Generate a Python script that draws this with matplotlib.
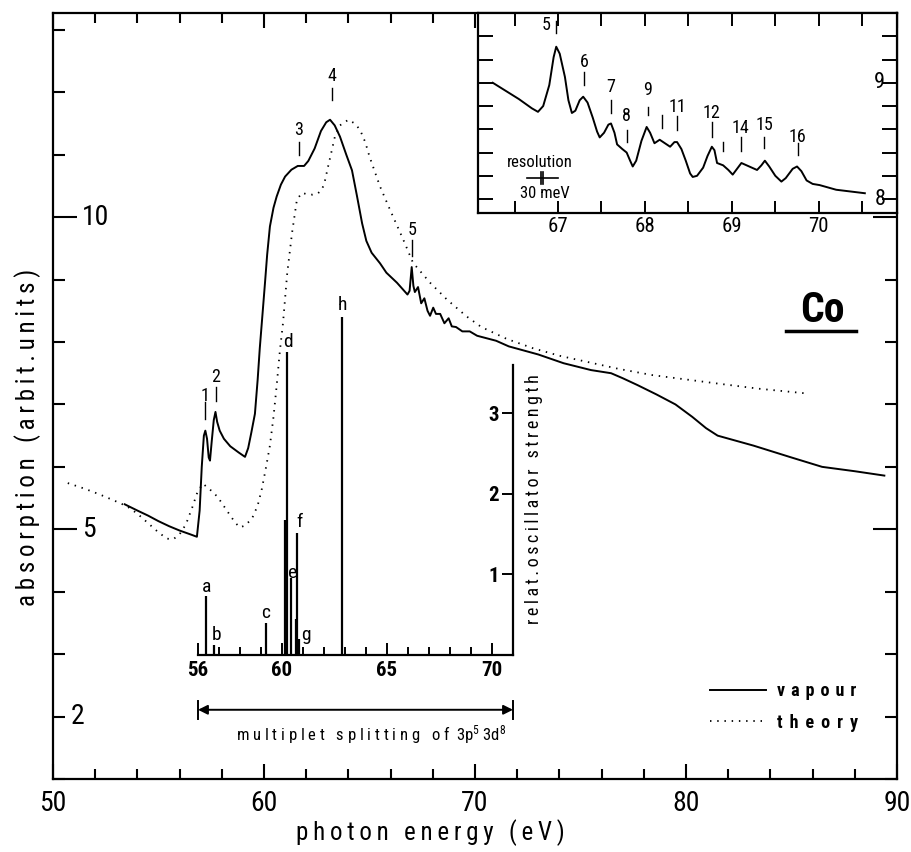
import matplotlib
matplotlib.use('Agg')
import matplotlib.pyplot as plt
from matplotlib import font_manager as fm

entries = fm.fontManager.ttflist
names = {f.name for f in entries}
FONT = 'DejaVu Sans'
STRETCH = 'normal'
for c in ['Liberation Sans Narrow', 'Roboto Condensed', 'Open Sans Condensed', 'DejaVu Sans Condensed']:
    if c in names:
        FONT = c
        break
else:
    if any(f.name == 'DejaVu Sans' and 'condensed' in str(f.stretch) for f in entries):
        STRETCH = 'condensed'
plt.rcParams['font.family'] = [FONT, 'DejaVu Sans']
plt.rcParams['font.stretch'] = STRETCH
plt.rcParams['mathtext.default'] = 'regular'
NARROW = (FONT != 'DejaVu Sans') or STRETCH == 'condensed'

# ---------------- data ----------------
vapour_e = [53.4, 54.0, 54.5, 55.0, 55.5, 56.0, 56.5, 56.82, 56.95, 57.05, 57.15, 57.22, 57.3, 57.38,
            57.44, 57.52, 57.62, 57.7, 57.78, 57.9, 58.1, 58.4, 58.8, 59.1, 59.25, 59.4, 59.57, 59.7,
            59.8, 59.93, 60.05, 60.15, 60.28, 60.45, 60.6, 60.8, 61.0, 61.3, 61.6, 61.9, 62.1, 62.4,
            62.7, 62.95, 63.13, 63.35, 63.6, 63.9, 64.17, 64.4, 64.65, 64.85, 65.1, 65.5, 65.8, 66.3,
            66.8, 66.9, 67.0, 67.08, 67.15, 67.3, 67.45, 67.6, 67.75, 67.87, 68.02, 68.15, 68.35,
            68.55, 68.75, 68.9, 69.1, 69.4, 69.75, 70.1, 71.0, 71.6, 73.0, 74.2, 75.5, 76.45, 77.0,
            77.7, 78.6, 79.5, 80.3, 80.95, 81.5, 83.2, 85.0, 86.45, 88.0, 89.4]
vapour_a = [5.40, 5.30, 5.22, 5.13, 5.05, 4.98, 4.92, 4.88, 5.30, 6.00, 6.50, 6.58, 6.45, 6.15,
            6.10, 6.40, 6.75, 6.88, 6.72, 6.58, 6.45, 6.33, 6.23, 6.16, 6.30, 6.55, 6.85, 7.40,
            7.90, 8.45, 8.96, 9.40, 9.85, 10.15, 10.33, 10.52, 10.65, 10.76, 10.82, 10.82, 10.90, 11.10,
            11.38, 11.52, 11.56, 11.47, 11.29, 11.00, 10.75, 10.35, 9.90, 9.62, 9.43, 9.26, 9.11, 8.95,
            8.76, 8.82, 9.20, 8.90, 8.80, 8.88, 8.62, 8.70, 8.50, 8.42, 8.55, 8.45, 8.45,
            8.30, 8.38, 8.25, 8.24, 8.17, 8.17, 8.10, 8.02, 7.93, 7.80, 7.66, 7.55, 7.50, 7.42,
            7.31, 7.16, 7.00, 6.80, 6.62, 6.50, 6.34, 6.15, 6.00, 5.93, 5.86]

theory_e = [50.7, 51.5, 52.2, 52.9, 53.5, 54.0, 54.5, 55.0, 55.4, 55.7, 56.0, 56.3, 56.6, 56.85,
            57.1, 57.4, 57.8, 58.1, 58.4, 58.65, 58.86, 59.1, 59.43, 59.7, 59.9, 60.1, 60.28, 60.45,
            60.6, 60.75, 60.9, 61.1, 61.33, 61.56, 61.8, 62.0, 62.3, 62.55, 62.75, 62.9, 63.03, 63.2,
            63.36, 63.6, 64.0, 64.3, 64.55, 64.8, 65.0, 65.5, 65.97, 66.6, 67.06, 67.87, 68.67, 69.6,
            70.3, 71.5, 72.75, 74.0, 75.2, 76.8, 78.4, 80.0, 81.6, 83.5, 85.6]
theory_a = [5.74, 5.65, 5.56, 5.46, 5.37, 5.25, 5.10, 4.95, 4.85, 4.84, 4.92, 5.08, 5.35, 5.60,
            5.73, 5.65, 5.52, 5.37, 5.22, 5.10, 5.03, 5.06, 5.17, 5.38, 5.65, 6.00, 6.34, 6.80,
            7.30, 7.85, 8.30, 9.10, 9.75, 10.28, 10.39, 10.37, 10.36, 10.38, 10.44, 10.60, 10.80, 11.05,
            11.29, 11.47, 11.56, 11.50, 11.40, 11.20, 10.97, 10.49, 10.12, 9.64, 9.27, 8.95, 8.68, 8.41,
            8.24, 8.05, 7.90, 7.78, 7.69, 7.57, 7.47, 7.40, 7.33, 7.25, 7.18]

# peak markers on main curve
main_peak_names = ['1', '2', '3', '4', '5']
main_peak_e = [57.2, 57.72, 61.66, 63.22, 67.01]

# multiplet (stick) spectrum
stick_e = [56.38, 56.76, 59.24, 60.15, 60.26, 60.43, 60.68, 60.71, 60.80, 62.86]
stick_f = [0.73, 0.12, 0.40, 1.68, 3.76, 0.96, 0.45, 1.52, 0.20, 4.20]
stick_names = ['a', 'b', 'c', 'd', 'e', 'f', 'g', 'h']
stick_name_e = [56.43, 56.90, 59.24, 60.29, 60.52, 60.81, 61.12, 62.90]

# high-resolution inset
hr_e = [66.25, 66.4, 66.55, 66.7, 66.77, 66.83, 66.9, 66.95, 66.98, 67.02, 67.08, 67.12, 67.16,
        67.2, 67.25, 67.29, 67.34, 67.4, 67.45, 67.48, 67.53, 67.58, 67.61, 67.65, 67.68, 67.74,
        67.79, 67.83, 67.86, 67.9, 67.96, 68.02, 68.06, 68.11, 68.17, 68.23, 68.29, 68.34, 68.37,
        68.42, 68.47, 68.52, 68.55, 68.6, 68.67, 68.72, 68.77, 68.8, 68.83, 68.9, 68.96, 69.01,
        69.06, 69.11, 69.2, 69.29, 69.34, 69.38, 69.43, 69.5, 69.57, 69.62, 69.7, 69.75, 69.8,
        69.86, 69.93, 70.01, 70.2, 70.53]
hr_a = [9.00, 8.93, 8.86, 8.78, 8.75, 8.80, 8.98, 9.22, 9.31, 9.25, 9.05, 8.85, 8.74,
        8.76, 8.85, 8.88, 8.83, 8.70, 8.58, 8.53, 8.57, 8.64, 8.65, 8.57, 8.47, 8.43,
        8.40, 8.33, 8.28, 8.33, 8.50, 8.62, 8.57, 8.48, 8.51, 8.48, 8.45, 8.49, 8.49,
        8.43, 8.33, 8.22, 8.19, 8.20, 8.27, 8.37, 8.45, 8.42, 8.31, 8.29, 8.25, 8.21,
        8.26, 8.31, 8.28, 8.25, 8.29, 8.33, 8.28, 8.20, 8.15, 8.18, 8.26, 8.28, 8.24,
        8.16, 8.13, 8.12, 8.08, 8.05]
hr_names = ['5', '6', '7', '8', '9', '', '11', '12', '', '14', '15', '16']
hr_mark_e = [66.98, 67.30, 67.61, 67.79, 68.03, 68.20, 68.37, 68.77, 68.90, 69.10, 69.37, 69.76]

main_xticks = [50, 60, 70, 80, 90]
main_ylabels = [2, 5, 10]
stick_xlabels = [56, 60, 65, 70]
stick_ylabels = [1, 2, 3]
hr_xlabels = [67, 68, 69, 70]
hr_ylabels = [8, 9]

# ---------------- layout ----------------
W, H = 912, 852
fig = plt.figure(figsize=(W / 100, H / 100), dpi=100)
fig.patch.set_facecolor('white')
renderer = fig.canvas.get_renderer()

def fx(px):
    return px / W

def fy(py):
    return 1 - py / H

SEPS = ['', '\u200a', '\u2009', '\u2009\u200a', '\u2009\u2009', ' ', ' \u200a', ' \u2009', '  ']

def fit_spacing(t, raw, target, vertical=False, suffix=''):
    best = None
    for sep in SEPS:
        t.set_text(sep.join(raw) + (sep + ' ' + suffix if suffix else ''))
        bb = t.get_window_extent(renderer)
        size = bb.height if vertical else bb.width
        err = abs(size - target)
        if best is None or err < best[0]:
            best = (err, t.get_text())
    t.set_text(best[1])

TICK_FS = 20 if NARROW else 17

ax = fig.add_axes([fx(53), fy(779), fx(897) - fx(53), fy(13) - fy(779)])
ax.set_xlim(50, 90)
ax.set_ylim(1.03, 13.27)
for s in ax.spines.values():
    s.set_linewidth(1.6)

lv, = ax.plot(vapour_e, vapour_a, color='black', lw=1.4, solid_joinstyle='round')
lt, = ax.plot(theory_e, theory_a, color='black', lw=1.3, linestyle=(0, (0.8, 3.2)))

ax.set_xticks(main_xticks)
ax.set_xticks(range(50, 91, 2), minor=True)
ax.set_yticks([5, 10])
ax.set_yticks(range(1, 14), minor=True)
ax.tick_params(axis='x', which='major', direction='in', length=11, width=1.5, top=True,
               labelsize=TICK_FS, pad=8)
ax.tick_params(axis='x', which='minor', direction='in', length=7, width=1.5, top=True)
ax.tick_params(axis='y', which='major', direction='in', length=17, width=1.5, right=True,
               labelleft=False)
ax.tick_params(axis='y', which='minor', direction='in', length=8.5, width=1.5, right=True)
ax.set_xticklabels([str(v) for v in main_xticks])
ylab_px = {2: 71, 5: 82, 10: 82}
for v in main_ylabels:
    ax.text((ylab_px[v] - 53) / 844, v, str(v), transform=ax.get_yaxis_transform(),
            ha='left', va='center', fontsize=TICK_FS)

# axis titles
xl = fig.text(fx(430), fy(833), 'x', ha='center', va='center', fontsize=18)
fit_spacing(xl, 'photon energy (eV)', 266)
yl = fig.text(fx(28), fy(437), 'y', ha='center', va='center', fontsize=18, rotation=90)
fit_spacing(yl, 'absorption (arbit.units)', 342, vertical=True)

# peak markers on main curve
lab_y = [7.13, 7.44, 11.40, 12.26, 9.80]
tick_lo = [6.77, 7.05, 11.00, 11.88, 9.37]
tick_hi = [7.04, 7.28, 11.21, 12.07, 9.64]
for n, e, ly, lo, hi in zip(main_peak_names, main_peak_e, lab_y, tick_lo, tick_hi):
    ax.text(e, ly, n, ha='center', va='center', fontsize=13)
    ax.plot([e, e], [lo, hi], color='black', lw=1.0)

# Co label
ax.text(86.45, 8.51, 'Co', ha='center', va='center', fontsize=30, fontweight='bold')
ax.plot([84.74, 88.06], [8.17, 8.17], color='black', lw=2.5)

# legend
leg = ax.legend([lv, lt], ['vapour', 'theory'], loc='upper left',
                bbox_to_anchor=(fx(710), fy(682)), bbox_transform=fig.transFigure,
                frameon=False, fontsize=13, handlelength=3.1, handletextpad=0.6,
                labelspacing=0.75, borderpad=0, borderaxespad=0)
for t, raw in zip(leg.get_texts(), ['vapour', 'theory']):
    t.set_fontweight('bold')
    fit_spacing(t, raw, 80)

# ---------------- stick spectrum inset ----------------
ax2 = fig.add_axes([fx(198), fy(655), fx(513) - fx(198), fy(365) - fy(655)])
ax2.patch.set_alpha(0)
ax2.set_xlim(56, 71)
ax2.set_ylim(0, 3.6)
ax2.spines['top'].set_visible(False)
ax2.spines['right'].set_visible(False)
ax2.spines['left'].set_position(('data', 71))
ax2.spines['left'].set_linewidth(1.6)
ax2.spines['bottom'].set_linewidth(1.6)
ax2.set_xticks(stick_xlabels)
ax2.set_xticks(range(56, 72), minor=True)
ax2.set_xticklabels([str(v) for v in stick_xlabels])
ax2.tick_params(axis='x', which='major', direction='in', length=9, width=1.4,
                labelsize=15 if NARROW else 14, pad=4)
ax2.tick_params(axis='x', which='minor', direction='in', length=6, width=1.4)
for t in ax2.get_xticklabels():
    t.set_fontweight('bold')
ax2.set_yticks(stick_ylabels)
ax2.set_yticklabels([str(v) for v in stick_ylabels])
ax2.tick_params(axis='y', direction='out', length=8, width=1.4,
                labelsize=15 if NARROW else 14, pad=2)
for t in ax2.get_yticklabels():
    t.set_fontweight('bold')
ax2.vlines(stick_e, 0, stick_f, color='black', lw=1.6, clip_on=False)
name_y = [0.84, 0.25, 0.52, 3.89, 1.02, 1.65, 0.25, 4.35]
for n, e, y in zip(stick_names, stick_name_e, name_y):
    ax2.text(e, y, n, ha='center', va='center', fontsize=14, clip_on=False)
rl = ax2.text(71.55, 1.93, 'r', rotation=90, ha='left', va='center', fontsize=13, clip_on=False)
fit_spacing(rl, 'relat.oscillator strength', 241, vertical=True)
ax2.annotate('', xy=(56, -0.68), xytext=(71, -0.68),
             arrowprops=dict(arrowstyle='<|-|>', color='black', lw=1.4, mutation_scale=14,
                             shrinkA=0, shrinkB=0), annotation_clip=False)
for e in (56, 71):
    ax2.plot([e, e], [-0.57, -0.79], color='black', lw=1.4, clip_on=False)
ml = ax2.text(64.24, -0.84, 'm', ha='center', va='top', fontsize=12, clip_on=False)
fit_spacing(ml, 'multiplet splitting of', 268, suffix='3p$^{5}$ 3d$^{8}$')

# ---------------- high-resolution inset ----------------
ax3 = fig.add_axes([fx(478), fy(213), fx(897) - fx(478), fy(13) - fy(213)])
ax3.set_facecolor('white')
for s in ax3.spines.values():
    s.set_linewidth(1.6)
ax3.set_xlim(66.08, 70.9)
ax3.set_ylim(7.88, 9.6)
ax3.plot(hr_e, hr_a, color='black', lw=1.4, solid_joinstyle='round')
ax3.set_xticks(hr_xlabels)
ax3.set_xticks([66.5 + 0.5 * i for i in range(9)], minor=True)
ax3.set_xticklabels([str(v) for v in hr_xlabels])
ax3.tick_params(axis='x', which='both', direction='in', length=9, width=1.4, top=True,
                labelsize=15 if NARROW else 14, pad=3)
ax3.set_yticks([8.0 + 0.2 * i for i in range(8)])
ax3.tick_params(axis='y', direction='in', length=11, width=1.4, right=True, labelleft=False)
for v in hr_ylabels:
    ax3.text(0.972, v, str(v), transform=ax3.get_yaxis_transform(), ha='right', va='center',
             fontsize=16 if NARROW else 14)
hr_lab_y = [9.50, 9.18, 8.96, 8.71, 8.94, None, 8.79, 8.74, None, 8.61, 8.64, 8.53]
hr_tick_lo = [9.43, 8.98, 8.74, 8.49, 8.72, 8.61, 8.59, 8.53, 8.41, 8.41, 8.44, 8.38]
hr_tick_hi = [9.53, 9.09, 8.85, 8.59, 8.79, 8.72, 8.71, 8.66, 8.49, 8.53, 8.53, 8.48]
for n, e, ly, lo, hi in zip(hr_names, hr_mark_e, hr_lab_y, hr_tick_lo, hr_tick_hi):
    ax3.plot([e, e], [lo, hi], color='black', lw=1.0)
    if n:
        if n == '5':
            ax3.text(e - 0.06, ly, n, ha='right', va='center', fontsize=13)
        else:
            ax3.text(e, ly, n, ha='center', va='center', fontsize=13)
ax3.text(66.79, 8.31, 'resolution', ha='center', va='center', fontsize=12)
ax3.plot([66.64, 67.0], [8.18, 8.18], color='black', lw=1.2)
for e in (66.80, 66.83):
    ax3.plot([e, e], [8.13, 8.23], color='black', lw=1.2)
ax3.text(66.85, 8.05, '30 meV', ha='center', va='center', fontsize=12)

fig.savefig('out.png', dpi=100)
